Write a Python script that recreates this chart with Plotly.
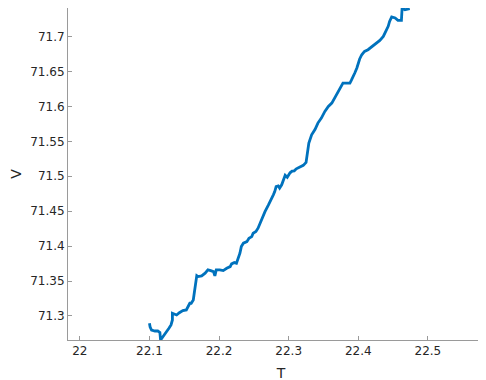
import plotly.graph_objects as go

T = [22.100, 22.101, 22.103, 22.108, 22.112, 22.115, 22.116, 22.119, 22.122, 22.125,
     22.128, 22.131, 22.133, 22.133, 22.135, 22.139, 22.143, 22.146, 22.148, 22.153,
     22.156, 22.158, 22.160, 22.163, 22.164, 22.165, 22.167, 22.168, 22.168, 22.170,
     22.175, 22.180, 22.184, 22.188, 22.192, 22.194, 22.196, 22.201, 22.206, 22.211,
     22.216, 22.218, 22.222, 22.225, 22.227, 22.230, 22.232, 22.235, 22.240, 22.243,
     22.247, 22.249, 22.253, 22.256, 22.259, 22.261, 22.263, 22.266, 22.271, 22.275,
     22.278, 22.280, 22.282, 22.285, 22.287, 22.290, 22.292, 22.295, 22.298, 22.302,
     22.305, 22.308, 22.311, 22.316, 22.321, 22.325, 22.327, 22.328, 22.329, 22.333,
     22.338, 22.342, 22.347, 22.352, 22.357, 22.362, 22.366, 22.371, 22.376, 22.378,
     22.383, 22.388, 22.390, 22.393, 22.395, 22.398, 22.400, 22.402, 22.405, 22.409,
     22.414, 22.417, 22.421, 22.426, 22.431, 22.436, 22.440, 22.443, 22.445, 22.448,
     22.453, 22.457, 22.462, 22.462, 22.463, 22.467, 22.472, 22.474]

V = [71.2895, 71.2842, 71.2799, 71.2785, 71.2785, 71.2764, 71.2656, 71.2695, 71.2742, 71.2775,
     71.2824, 71.2871, 71.2943, 71.3039, 71.3029, 71.3014, 71.3047, 71.3062, 71.3076, 71.3086,
     71.3133, 71.3182, 71.3182, 71.3229, 71.3301, 71.3372, 71.3444, 71.3516, 71.3577, 71.3563,
     71.3573, 71.3612, 71.3659, 71.3649, 71.3635, 71.3573, 71.3659, 71.3659, 71.3649, 71.3683,
     71.3706, 71.3745, 71.3764, 71.3755, 71.3812, 71.3898, 71.3993, 71.4042, 71.4064, 71.4113,
     71.4136, 71.4185, 71.4208, 71.4256, 71.4328, 71.4375, 71.4447, 71.4494, 71.4590, 71.4662,
     71.4734, 71.4781, 71.4852, 71.4862, 71.4830, 71.4877, 71.4938, 71.5013, 71.4984, 71.5049,
     71.5073, 71.5077, 71.5106, 71.5127, 71.5156, 71.5199, 71.5331, 71.5403, 71.5474, 71.5593,
     71.5672, 71.5761, 71.5832, 71.5927, 71.5999, 71.6047, 71.6119, 71.6191, 71.6285, 71.6334,
     71.6334, 71.6334, 71.6371, 71.6428, 71.6477, 71.6549, 71.6620, 71.6678, 71.6739, 71.6787,
     71.6811, 71.6835, 71.6858, 71.6907, 71.6944, 71.7001, 71.7073, 71.7145, 71.7216, 71.7279,
     71.7265, 71.7231, 71.7231, 71.7312, 71.7408, 71.7384, 71.7394, 71.7398]

x_ticks = [22.0, 22.1, 22.2, 22.3, 22.4, 22.5]
x_tick_labels = ["22", "22.1", "22.2", "22.3", "22.4", "22.5"]
y_ticks = [71.3, 71.35, 71.4, 71.45, 71.5, 71.55, 71.6, 71.65, 71.7]
y_tick_labels = ["71.3", "71.35", "71.4", "71.45", "71.5", "71.55", "71.6", "71.65", "71.7"]

fig = go.Figure()
fig.add_trace(go.Scatter(x=T, y=V, mode="lines",
                         line=dict(color="#0072BD", width=2.8),
                         showlegend=False, hoverinfo="skip"))

axis_common = dict(
    showline=True, linecolor="#9a9a9a", linewidth=1,
    ticks="inside", ticklen=4, tickcolor="#9a9a9a", tickwidth=1,
    showgrid=False, zeroline=False, mirror=False,
    tickfont=dict(family="DejaVu Sans", size=12, color="#262626"),
)

fig.update_layout(
    width=486, height=380,
    margin=dict(l=60, r=0, t=0, b=48),
    paper_bgcolor="white", plot_bgcolor="white",
    xaxis=dict(range=[21.983, 22.595], tickvals=x_ticks, ticktext=x_tick_labels,
               title=dict(text="T", font=dict(family="DejaVu Sans", size=14, color="#262626"),
                          standoff=10),
               automargin=False, **axis_common),
    yaxis=dict(range=[71.2656, 71.7408], tickvals=y_ticks, ticktext=y_tick_labels,
               title=dict(text="V", font=dict(family="DejaVu Sans", size=14, color="#262626"),
                          standoff=9),
               automargin=False, **axis_common),
)

fig.write_html("out.html")
